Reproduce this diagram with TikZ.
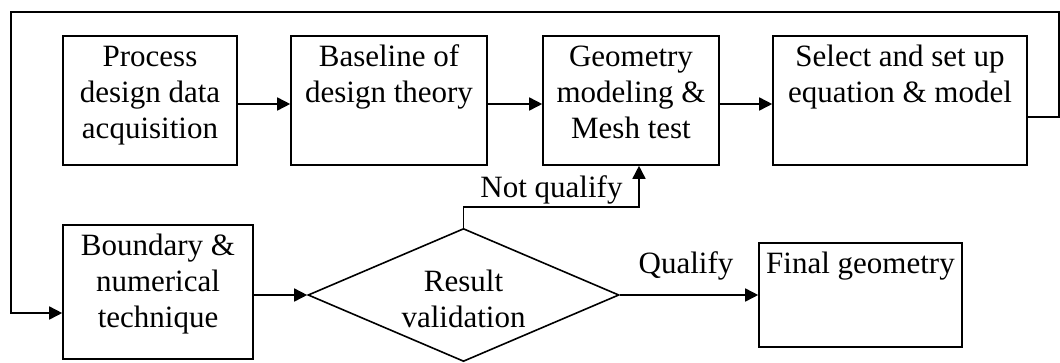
\documentclass[tikz,border=0pt]{standalone}
\usepackage{fontspec}
\setmainfont{Liberation Serif}
\usetikzlibrary{arrows.meta,shapes.geometric}
\begin{document}
\begin{tikzpicture}[x=1pt,y=-1pt,
  box/.style={draw,line width=1.6pt,inner sep=0pt},
  txt/.style={inner sep=0pt,align=center,font=\fontsize{31}{36}\selectfont},
  boxtxt/.style={txt,anchor=north,yshift=-5.8pt},
  conn/.style={line width=1.6pt},
  arr/.style={conn,-{Triangle[length=13pt,width=13pt]}}]
\useasboundingbox (0,0) rectangle (1060,362);

% upper row of process steps
\node[box,minimum width=174pt,minimum height=129pt] (b1) at (150,100.5) {};
\node[box,minimum width=196pt,minimum height=129pt] (b2) at (389,100.5) {};
\node[box,minimum width=176pt,minimum height=129pt] (b3) at (631,100.5) {};
\node[box,minimum width=254pt,minimum height=129pt] (b4) at (900,100.5) {};
\node[boxtxt] (t1) at (b1.north) {\strut Process\\design data\\acquisition};
\node[boxtxt] (t2) at (b2.north) {\strut Baseline of\\design theory};
\node[boxtxt] (t3) at (b3.north) {\strut Geometry\\modeling \&\\Mesh test};
\node[boxtxt] (t4) at (b4.north) {\strut Select and set up\\equation \& model};

% lower row
\node[box,minimum width=190pt,minimum height=134pt] (b5) at (158,292) {};
\node[boxtxt] (t5) at (b5.north) {\strut Boundary \&\\numerical\\technique};
\node[draw,line width=1.6pt,diamond,inner sep=0pt,shape aspect=2.34,
      minimum width=311pt,minimum height=133pt] (dm) at (463.5,295) {};
\node[txt,anchor=north] (t6) at (463.5,266.5) {\strut Result\\validation};
\node[box,minimum width=203pt,minimum height=104pt] (b6) at (860.5,295) {};
\node[boxtxt] (t7) at (b6.north) {\strut Final geometry};

% flow between the steps
\draw[arr] (b1.east|-0,104) -- (b2.west|-0,104);
\draw[arr] (b2.east|-0,104) -- (b3.west|-0,104);
\draw[arr] (b3.east|-0,104) -- (b4.west|-0,104);
\draw[arr] (b5.east|-dm.west) -- (dm.west);

% outcomes of the validation
\coordinate (nq1) at (463.5,207);
\coordinate (nq2) at (639,207);
\draw[arr] (dm.north) -- (nq1) -- (nq2) -- (nq2|-b3.south);
\node[txt,anchor=base] (lnq) at (551.5,197) {Not qualify};
\draw[arr] (dm.east) -- (b6.west);
\node[txt,anchor=base] (lq) at (686,273) {Qualify};

% feedback loop back to the boundary setup
\coordinate (fb0) at (1059,116.7);
\coordinate (fb1) at (1059,12);
\coordinate (fb2) at (11,12);
\coordinate (fb3) at (11,313);
\draw[arr] (b4.east|-fb0) -- (fb0) -- (fb1) -- (fb2) -- (fb3) -- (b5.west|-fb3);
\end{tikzpicture}
\end{document}
